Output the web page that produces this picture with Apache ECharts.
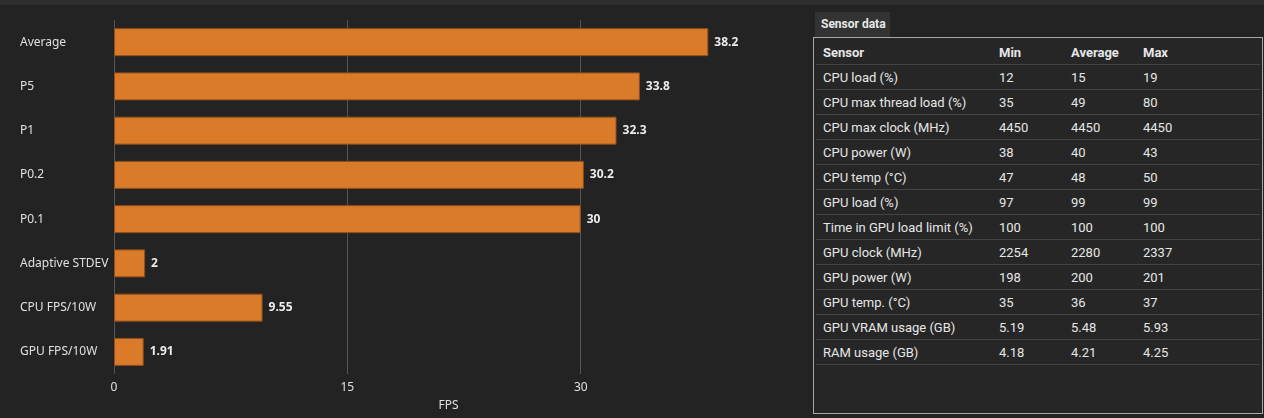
<!DOCTYPE html>
<html>
<head>
<meta charset="utf-8">
<script src="https://cdn.jsdelivr.net/npm/echarts@6/dist/echarts.min.js"></script>
<style>
  html, body { margin: 0; padding: 0; width: 1264px; height: 418px; background: #232323; overflow: hidden; }
  #topband { position: absolute; left: 0; top: 0; width: 1264px; height: 5px; background: #2e2e2e; }
  #chart { position: absolute; left: 0; top: 0; width: 813px; height: 418px; }
  #tab { position: absolute; left: 815px; top: 12px; width: 75px; height: 25px; background: #333333;
         font: bold 12px Roboto, sans-serif; color: #e8e8e8; line-height: 25px; padding-left: 6px; box-sizing: border-box; }
  #box { position: absolute; left: 813px; top: 37px; width: 450px; height: 377px; border: 1px solid #a8a8a8;
         box-sizing: border-box; background: #262626; }
  #sensors { position: absolute; left: 2px; top: 2px; width: 444px; border-collapse: collapse;
             font: 13px Roboto, sans-serif; color: #e6e6e6; }
  #sensors td, #sensors th { height: 24px; border-bottom: 1px solid #444; padding: 0; text-align: left; white-space: nowrap; }
  #sensors th { font-weight: bold; }
  #sensors td:first-child, #sensors th:first-child { padding-left: 7px; width: 176px; }
  #sensors .c { width: 72px; }
</style>
</head>
<body>
<div id="topband"></div>
<div id="chart"></div>
<div id="tab">Sensor data</div>
<div id="box"><table id="sensors"></table></div>
<script>
const categories = ['Average', 'P5', 'P1', 'P0.2', 'P0.1', 'Adaptive STDEV', 'CPU FPS/10W', 'GPU FPS/10W'];
const fpsValues = [38.2, 33.8, 32.3, 30.2, 30, 2, 9.55, 1.91];

const tableHeaders = ['Sensor', 'Min', 'Average', 'Max'];
const sensorNames = ['CPU load (%)', 'CPU max thread load (%)', 'CPU max clock (MHz)', 'CPU power (W)', 'CPU temp (°C)',
  'GPU load (%)', 'Time in GPU load limit (%)', 'GPU clock (MHz)', 'GPU power (W)', 'GPU temp. (°C)',
  'GPU VRAM usage (GB)', 'RAM usage (GB)'];
const sensorMin = ['12', '35', '4450', '38', '47', '97', '100', '2254', '198', '35', '5.19', '4.18'];
const sensorAvg = ['15', '49', '4450', '40', '48', '99', '100', '2280', '200', '36', '5.48', '4.21'];
const sensorMax = ['19', '80', '4450', '43', '50', '99', '100', '2337', '201', '37', '5.93', '4.25'];

// Build table
const tbl = document.getElementById('sensors');
let html = '<tr>' + tableHeaders.map((h, i) => '<th' + (i > 0 && i < 3 ? ' class="c"' : '') + '>' + h + '</th>').join('') + '</tr>';
for (let i = 0; i < sensorNames.length; i++) {
  html += '<tr><td>' + sensorNames[i] + '</td><td class="c">' + sensorMin[i] + '</td><td class="c">' + sensorAvg[i] + '</td><td>' + sensorMax[i] + '</td></tr>';
}
tbl.innerHTML = html;

const chart = echarts.init(document.getElementById('chart'));
chart.setOption({
  backgroundColor: 'transparent',
  animation: false,
  grid: { left: 114, top: 20, bottom: 44, width: 669, containLabel: false },
  xAxis: {
    type: 'value', min: 0, max: 43, interval: 15,
    name: 'FPS', nameLocation: 'middle', nameGap: 26,
    nameTextStyle: { color: '#e0e0e0', fontSize: 12, fontFamily: 'Noto Sans' },
    axisLine: { show: false }, axisTick: { show: false },
    axisLabel: { color: '#e0e0e0', fontSize: 12, fontFamily: 'Noto Sans', margin: 8, showMaxLabel: false },
    splitLine: { show: true, showMaxLine: false, lineStyle: { color: '#555555', width: 1 } }
  },
  yAxis: {
    type: 'category', data: categories, inverse: true,
    axisLine: { show: false }, axisTick: { show: false },
    axisLabel: { color: '#e0e0e0', fontSize: 12, fontFamily: 'Noto Sans', align: 'left', margin: 94 }
  },
  series: [{
    type: 'bar', data: fpsValues, barWidth: 28,
    itemStyle: { color: '#d97b29', borderColor: '#8f4e1c', borderWidth: 1 },
    label: { show: true, position: 'right', distance: 6, color: '#ececec', fontWeight: 'bold', fontSize: 12, fontFamily: 'Noto Sans' }
  }]
});
</script>
</body>
</html>
